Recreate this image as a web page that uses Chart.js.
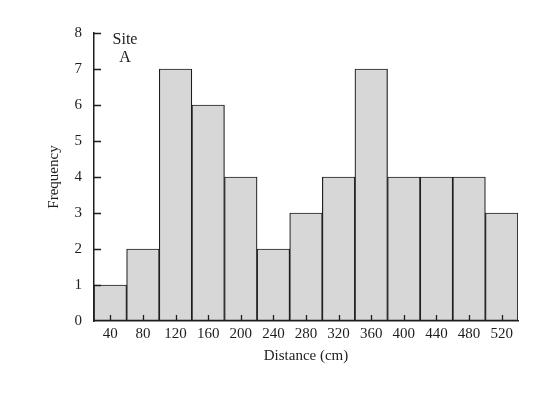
<!DOCTYPE html>
<html lang="en">
<head>
  <meta charset="UTF-8">
  <title>Site A distance histogram</title>
  <script src="https://cdn.jsdelivr.net/npm/chart.js"></script>
  <style>
    html, body { margin: 0; padding: 0; background: #fff; }
    #wrap { width: 560px; height: 396px; position: relative; }
  </style>
</head>
<body>
<div id="wrap"><canvas id="histChart"></canvas></div>
<script>
  // Bin centres (cm) and counts
  const distanceLabels = ['40', '80', '120', '160', '200', '240', '280', '320', '360', '400', '440', '480', '520'];
  const frequencies = [1, 2, 7, 6, 4, 2, 3, 4, 7, 4, 4, 4, 3];
  const yTicks = [0, 1, 2, 3, 4, 5, 6, 7, 8];

  const serif = "'Liberation Serif', 'DejaVu Serif', serif";
  const ink = '#1e1e1e';

  // Draws the small inward tick marks and the "Site A" note
  const innerTicks = {
    id: 'innerTicks',
    afterDraw(chart) {
      const ctx = chart.ctx;
      const area = chart.chartArea;
      const x = chart.scales.x, y = chart.scales.y;
      ctx.save();
      ctx.strokeStyle = ink;
      ctx.lineWidth = 1.3;
      ctx.beginPath();
      yTicks.forEach(v => {
        if (v === 0) return;
        const py = Math.round(y.getPixelForValue(v)) + 0.5;
        ctx.moveTo(area.left, py);
        ctx.lineTo(area.left + 7, py);
      });
      distanceLabels.forEach((lab, i) => {
        const px = Math.round(x.getPixelForValue(i)) + 0.5;
        ctx.moveTo(px, area.bottom);
        ctx.lineTo(px, area.bottom - 6);
      });
      ctx.stroke();

      ctx.fillStyle = ink;
      ctx.font = '16px ' + serif;
      ctx.textAlign = 'center';
      ctx.textBaseline = 'middle';
      ctx.fillText('Site', area.left + 31, 40);
      ctx.fillText('A', area.left + 31, 58);
      ctx.restore();
    }
  };

  new Chart(document.getElementById('histChart'), {
    type: 'bar',
    data: {
      labels: distanceLabels,
      datasets: [{
        label: 'Frequency',
        data: frequencies,
        backgroundColor: '#d7d7d7',
        borderColor: ink,
        borderWidth: 1.2,
        borderSkipped: false,
        barPercentage: 1,
        categoryPercentage: 1
      }]
    },
    options: {
      responsive: true,
      maintainAspectRatio: false,
      animation: false,
      layout: { padding: { left: 45, right: 42, top: 33, bottom: 14 } },
      plugins: { legend: { display: false }, tooltip: { enabled: false } },
      scales: {
        x: {
          afterFit: s => { s.height = 61; },
          grid: { display: true, drawOnChartArea: false, drawTicks: false },
          border: { display: true, color: ink, width: 1.5 },
          ticks: { color: ink, font: { family: serif, size: 15 }, padding: 4, maxRotation: 0 },
          title: { display: true, text: 'Distance (cm)', color: ink, font: { family: serif, size: 15 }, padding: { top: 2, bottom: 17 } }
        },
        y: {
          min: 0,
          max: 8,
          afterFit: s => { s.width = 49; },
          afterBuildTicks: s => { s.ticks = yTicks.map(v => ({ value: v })); },
          grid: { display: true, drawOnChartArea: false, drawTicks: false },
          border: { display: true, color: ink, width: 1.5 },
          ticks: { color: ink, font: { family: serif, size: 15 }, padding: 12 },
          title: { display: true, text: 'Frequency', color: ink, font: { family: serif, size: 15 }, padding: 0 }
        }
      }
    },
    plugins: [innerTicks]
  });
</script>
</body>
</html>
